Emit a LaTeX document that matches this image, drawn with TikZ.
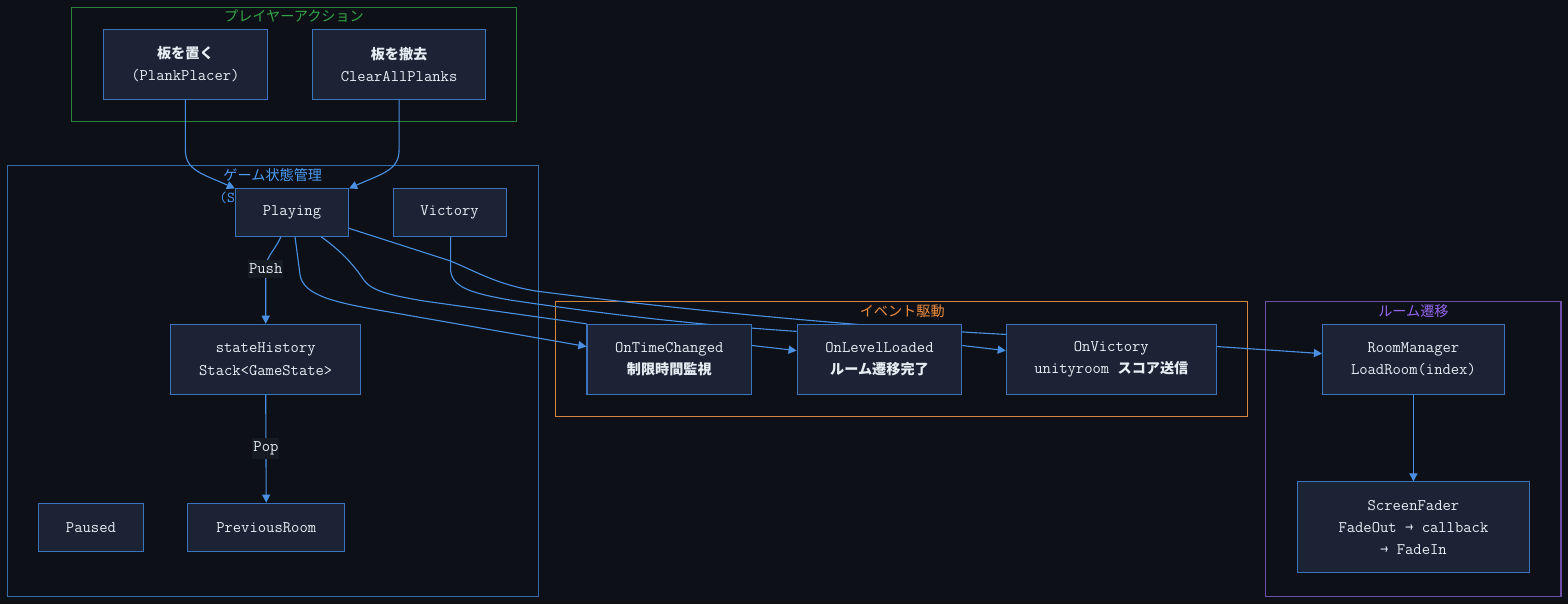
\documentclass[tikz,border=0pt]{standalone}
\usepackage{fontspec}
\setmainfont{Noto Sans CJK JP}
\newfontfamily\jp{Noto Sans CJK JP}
\usetikzlibrary{arrows.meta}

\definecolor{bgc}{RGB}{13,17,23}
\definecolor{boxfill}{RGB}{28,35,52}
\definecolor{boxline}{RGB}{58,115,190}
\definecolor{edgec}{RGB}{74,144,226}
\definecolor{txt}{RGB}{230,237,243}
\definecolor{lblfill}{RGB}{22,27,34}
\definecolor{actline}{RGB}{40,130,55}
\definecolor{acttitle}{RGB}{50,165,70}
\definecolor{stline}{RGB}{55,108,170}
\definecolor{sttitle}{RGB}{75,155,245}
\definecolor{evline}{RGB}{214,135,60}
\definecolor{evtitle}{RGB}{240,140,60}
\definecolor{rmline}{RGB}{110,80,170}
\definecolor{rmtitle}{RGB}{150,100,240}

\pgfdeclarelayer{bg}
\pgfdeclarelayer{edges}
\pgfsetlayers{bg,edges,main}

\begin{document}
\begin{tikzpicture}[x=1pt, y=-1pt,
    box/.style={draw=boxline, fill=boxfill, line width=1pt, text=txt, align=center, inner sep=0pt, font=\ttfamily\fontsize{16}{22}\selectfont},
    frame/.style={line width=1.1pt},
    ftitle/.style={font=\jp\fontsize{14}{16}\selectfont, inner sep=0pt},
    lbl/.style={fill=lblfill, text=txt, inner xsep=1pt, inner ysep=4pt, font=\ttfamily\fontsize{16}{16}\selectfont},
    arr/.style={draw=edgec, line width=1.1pt, -{Triangle[length=8pt,width=8pt]}},
    link/.style={draw=edgec, line width=1.1pt}
]
\begin{pgfonlayer}{bg}
\fill[bgc] (0,0) rectangle (1552,598);
\draw[frame, actline] (71,7) rectangle (511,120);
\draw[frame, stline] (7,164) rectangle (533,590);
\draw[frame, evline] (550,298) rectangle (1235,412);
\draw[frame, rmline] (1253,298) rectangle (1545,590);
\end{pgfonlayer}
\useasboundingbox (0,0) rectangle (1552,598);

\node[ftitle, text=acttitle] (acttl) at (291,16) {プレイヤーアクション};
\node[box, minimum width=163pt, minimum height=69pt] (place) at (183.5,63.5) {{\jp\bfseries\fontsize{14}{22}\selectfont 板を置く}\\(PlankPlacer)};
\node[box, minimum width=172pt, minimum height=69pt] (clear) at (395,63.5) {{\jp\bfseries\fontsize{14}{22}\selectfont 板を撤去}\\ClearAllPlanks};

\node[ftitle, text=sttitle] (sttl) at (270,173) {ゲーム状態管理};
\node[font=\ttfamily\fontsize{15}{15}\selectfont, text=sttitle, anchor=west, inner sep=0pt] (stsub) at (217,196) {(S};
\node[box, minimum width=112pt, minimum height=47pt] (play) at (289,210.5) {Playing};
\node[box, minimum width=112pt, minimum height=47pt] (vic) at (445,210.5) {Victory};
\node[box, minimum width=188pt, minimum height=69pt] (hist) at (263,355.5) {stateHistory\\Stack<GameState>};
\node[box, minimum width=104pt, minimum height=48pt] (paused) at (90,522) {Paused};
\node[box, minimum width=155pt, minimum height=48pt] (prev) at (263.5,522) {PreviousRoom};

\node[ftitle, text=evtitle] (evtl) at (893,308) {イベント駆動};
\node[box, minimum width=163pt, minimum height=69pt] (otc) at (662.5,355.5) {OnTimeChanged\\{\jp\bfseries\fontsize{14}{22}\selectfont 制限時間監視}};
\node[box, minimum width=163pt, minimum height=69pt] (oll) at (870.5,355.5) {OnLevelLoaded\\{\jp\bfseries\fontsize{14}{22}\selectfont ルーム遷移完了}};
\node[box, minimum width=208pt, minimum height=69pt] (ov) at (1100,355.5) {OnVictory\\unityroom {\jp\bfseries\fontsize{14}{22}\selectfont スコア送信}};

\node[ftitle, text=rmtitle] (rmtl) at (1399,308) {ルーム遷移};
\node[box, minimum width=180pt, minimum height=69pt] (rm) at (1399,355.5) {RoomManager\\LoadRoom(index)};
\node[box, minimum width=230pt, minimum height=90pt] (fader) at (1399,522) {ScreenFader\\FadeOut → callback\\→ FadeIn};

\begin{pgfonlayer}{edges}
\draw[arr] (place.south) -- ++(0,50) .. controls +(0,20) and (200,172) .. (play.north west);
\draw[arr] (clear.south) -- ++(0,50) .. controls +(0,20) and (378,172) .. (play.north east);
\draw[arr] ([xshift=-11pt]play.south) .. controls (272,248) and (263,254) .. (263,266) node[lbl] (push) {Push} -- (hist.north);
\draw[arr] (hist.south) -- node[lbl] (pop) {Pop} (prev.north);
\draw[arr] ([xshift=3pt]play.south) -- (297,272) .. controls (300,292) and (330,299) .. (375,307) -- ([yshift=12.5pt]otc.west);
\draw[link] ([xshift=29pt]play.south) .. controls (340,250) and (352,265) .. (360,277) .. controls (368,288) and (385,292) .. (420,298) -- (otc.north west);
\draw[link] ([yshift=-15.5pt]play.east) -- (445,258) .. controls (470,268) and (490,281) .. (530,288) .. controls (700,310) and (880,325) .. ([yshift=24.5pt]ov.west);
\draw[link] ([xshift=1pt]vic.south) -- (446,268) .. controls (448,284) and (465,290) .. (505,297) .. controls (620,314) and (700,322) .. ([yshift=27.5pt]oll.west);
\draw[arr] ([yshift=13.5pt]otc.east) -- ([yshift=8.5pt]oll.west);
\draw[arr] ([yshift=13.5pt]oll.east) -- ([yshift=8.5pt]ov.west);
\draw[arr] ([yshift=12.5pt]ov.east) -- ([yshift=5.5pt]rm.west);
\draw[arr] (rm.south) -- (fader.north);
\end{pgfonlayer}
\end{tikzpicture}
\end{document}
